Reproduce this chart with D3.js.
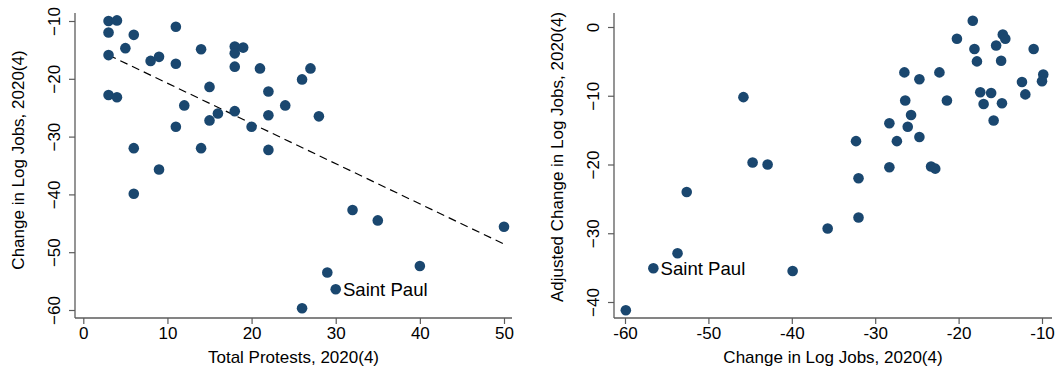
<!DOCTYPE html>
<html>
<head>
<meta charset="utf-8">
<script src="https://cdn.jsdelivr.net/npm/d3@7"></script>
<style>
  html, body { margin: 0; padding: 0; background: #fff; }
  svg { display: block; font-family: "Liberation Sans", Arial, sans-serif; }
</style>
</head>
<body>
<svg id="chart" width="1059" height="373"></svg>
<script>
// ---------- Data ----------
// Left panel: Total Protests (x) vs Change in Log Jobs (y)
const protests = [3, 4, 3, 6, 11, 5, 3, 8, 9, 11, 14, 18, 18, 19, 18, 21, 3, 4, 15, 12, 16, 15, 18, 11, 20, 22, 22, 22, 6, 14, 9, 27, 26, 24, 28, 6, 32, 35, 50, 40, 29, 30, 26];
const jobChange = [-10, -9.9, -12, -12.4, -11, -14.7, -15.9, -16.9, -16.2, -17.4, -14.9, -14.4, -15.6, -14.6, -17.9, -18.2, -22.8, -23.2, -21.4, -24.6, -26, -27.2, -25.6, -28.3, -28.3, -22.2, -26.3, -32.3, -32, -32, -35.7, -18.2, -20.1, -24.6, -26.5, -39.9, -42.7, -44.5, -45.6, -52.4, -53.5, -56.4, -59.7];
const leftLabelIndex = 41; // Saint Paul
// Fitted line: [intercept, slope]
const fitCoef = [-13.81, -0.6957];

// Right panel: Change in Log Jobs (x) vs Adjusted Change (y)
const rightX = [-45.8, -44.7, -42.9, -52.6, -18.3, -20.2, -14.7, -14.4, -18.1, -15.5, -11.0, -17.8, -14.9, -26.5, -24.7, -22.3, -9.85, -10.0, -12.4, -12.0, -17.4, -16.1, -17.0, -14.8, -15.8, -26.4, -21.4, -25.7, -28.3, -26.1, -24.7, -32.3, -27.4, -28.3, -23.3, -22.8, -32.0, -32.0, -35.7, -39.9, -53.7, -56.6, -59.9];
const rightY = [-10.2, -19.7, -20.0, -24.0, 0.9, -1.7, -1.1, -1.7, -3.2, -2.7, -3.2, -5.0, -4.9, -6.6, -7.6, -6.6, -6.9, -7.9, -8.0, -9.8, -9.5, -9.6, -11.2, -11.1, -13.6, -10.7, -10.7, -12.8, -14.0, -14.5, -16.0, -16.6, -16.6, -20.4, -20.3, -20.6, -22.0, -27.7, -29.3, -35.5, -32.9, -35.1, -41.2];
const rightLabelIndex = 41; // Saint Paul
const labelText = "Saint Paul";

const leftXTicks = [0, 10, 20, 30, 40, 50];
const leftYTicks = [-60, -50, -40, -30, -20, -10];
const rightXTicks = [-60, -50, -40, -30, -20, -10];
const rightYTicks = [-40, -30, -20, -10, 0];

const leftXTitle = "Total Protests, 2020(4)";
const leftYTitle = "Change in Log Jobs, 2020(4)";
const rightXTitle = "Change in Log Jobs, 2020(4)";
const rightYTitle = "Adjusted Change in Log Jobs, 2020(4)";

// ---------- Styles ----------
const dotColor = "#1a476f";
const axisColor = "#5b5b5b";
const fontSize = 17;
const labelFontSize = 18.6;

const svg = d3.select("#chart");

function panel(cfg) {
  const g = svg.append("g");
  const x = d3.scaleLinear().domain(cfg.xDomain).range(cfg.xRange);
  const y = d3.scaleLinear().domain(cfg.yDomain).range(cfg.yRange);

  // X axis
  const xa = g.append("g")
    .attr("transform", `translate(0,${cfg.axisY})`)
    .call(d3.axisBottom(x).tickValues(cfg.xTicks).tickSize(6).tickPadding(3).tickFormat(d3.format("d")));
  xa.select(".domain").remove();
  xa.append("line").attr("x1", cfg.axisX).attr("x2", cfg.xEnd).attr("y1", 0).attr("y2", 0)
    .attr("stroke", axisColor).attr("stroke-width", 1.3);
  xa.selectAll(".tick line").attr("stroke", axisColor).attr("stroke-width", 1.2);
  xa.selectAll(".tick text").attr("fill", "#000").attr("font-size", fontSize)
    .attr("font-family", "Liberation Sans, Arial, sans-serif")
    .attr("y", 9).attr("dy", "0.71em")
    .text(d => String(d));

  // Y axis
  const ya = g.append("g")
    .attr("transform", `translate(${cfg.axisX},0)`)
    .call(d3.axisLeft(y).tickValues(cfg.yTicks).tickSize(6).tickFormat(d3.format("d")));
  ya.select(".domain").remove();
  ya.append("line").attr("x1", 0).attr("x2", 0).attr("y1", cfg.yTop).attr("y2", cfg.axisY)
    .attr("stroke", axisColor).attr("stroke-width", 1.3);
  ya.selectAll(".tick line").attr("stroke", axisColor).attr("stroke-width", 1.2);
  ya.selectAll(".tick text").attr("fill", "#000").attr("font-size", fontSize)
    .attr("font-family", "Liberation Sans, Arial, sans-serif")
    .attr("x", null).attr("dy", null)
    .attr("text-anchor", "middle")
    .attr("transform", "translate(-15,0) rotate(-90)");

  // Titles
  g.append("text").attr("x", (cfg.axisX + cfg.xEnd) / 2).attr("y", cfg.axisY + 45)
    .attr("text-anchor", "middle").attr("font-size", fontSize).attr("fill", "#000")
    .text(cfg.xTitle);
  g.append("text")
    .attr("transform", `translate(${cfg.axisX - 51},${cfg.yTitleCenter}) rotate(-90)`)
    .attr("text-anchor", "middle").attr("font-size", fontSize).attr("fill", "#000")
    .text(cfg.yTitle);

  // Optional fit line
  if (cfg.fit) {
    const [a, b] = cfg.fit;
    const [x0, x1] = d3.extent(cfg.xs);
    g.append("line")
      .attr("x1", x(x0)).attr("y1", y(a + b * x0))
      .attr("x2", x(x1)).attr("y2", y(a + b * x1))
      .attr("stroke", "#000").attr("stroke-width", 1.2)
      .attr("stroke-dasharray", "8,5");
  }

  // Points
  g.append("g").selectAll("circle")
    .data(cfg.xs.map((v, i) => [v, cfg.ys[i]]))
    .join("circle")
    .attr("cx", d => x(d[0])).attr("cy", d => y(d[1]))
    .attr("r", 5.3).attr("fill", dotColor);

  // Label
  const li = cfg.labelIndex;
  g.append("text")
    .attr("x", x(cfg.xs[li]) + 7.2).attr("y", y(cfg.ys[li]) + 6.5)
    .attr("font-size", labelFontSize).attr("fill", "#000")
    .text(labelText);
}

panel({
  xs: protests, ys: jobChange, labelIndex: leftLabelIndex,
  xDomain: [0, 50], xRange: [83.3, 504],
  yDomain: [-60, -10], yRange: [310, 21],
  xTicks: leftXTicks, yTicks: leftYTicks,
  axisX: 75, axisY: 318, xEnd: 512, yTop: 13,
  xTitle: leftXTitle, yTitle: leftYTitle, yTitleCenter: 160,
  fit: fitCoef
});

panel({
  xs: rightX, ys: rightY, labelIndex: rightLabelIndex,
  xDomain: [-60, -10], xRange: [625, 1042],
  yDomain: [-40, 0], yRange: [302, 27],
  xTicks: rightXTicks, yTicks: rightYTicks,
  axisX: 614, axisY: 318, xEnd: 1052, yTop: 13,
  xTitle: rightXTitle, yTitle: rightYTitle, yTitleCenter: 157,
  fit: null
});
</script>
</body>
</html>
